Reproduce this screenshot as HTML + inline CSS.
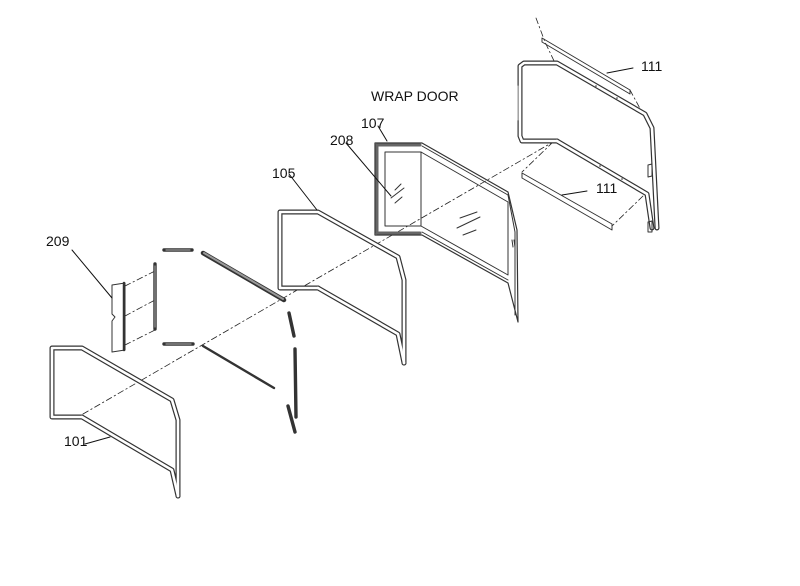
<!DOCTYPE html>
<html><head><style>
html,body{margin:0;padding:0;background:#fff;}
svg{display:block;}
text{font-family:"Liberation Sans",Arial,sans-serif;font-size:14px;fill:#111;}
</style></head><body>
<svg width="800" height="586" viewBox="0 0 800 586" xmlns="http://www.w3.org/2000/svg">
<g fill="none" stroke-linejoin="round" stroke-linecap="round">
<g stroke="#222" stroke-width="0.8" stroke-dasharray="6,3,1.5,3">
<path d="M83,414 L553,142"/>
<path d="M536,18 L545,42 L555,63"/>
<path d="M630,90 L643,114"/>
<path d="M553,142 L522,172"/>
<path d="M643,196 L612,226"/>
<path d="M125,286 L155,271"/>
<path d="M125,316 L155,300"/>
<path d="M125,345 L155,330"/>
</g>

<g stroke="#333" stroke-width="5">
<path d="M82,417 L52,417 L52,348 L82,348 L172,400 L178,420 L178,496"/>
<path d="M82,417 L172,470 L178,496"/>
<path d="M318,288 L280,288 L280,212 L318,212 L398,257 L404,280 L404,363"/>
<path d="M318,288 L398,334 L404,363"/>
<path d="M557,141 L522,141 L520,136 L520,66 L524,63 L557,63 L645,114 L652,128 L657,228"/>
<path d="M557,141 L647,194 L652,228"/>
</g>
<g stroke="#fff" stroke-width="2.6">
<path d="M82,417 L52,417 L52,348 L82,348 L172,400 L178,420 L178,496"/>
<path d="M82,417 L172,470 L178,496"/>
<path d="M318,288 L280,288 L280,212 L318,212 L398,257 L404,280 L404,363"/>
<path d="M318,288 L398,334 L404,363"/>
<path d="M557,141 L522,141 L520,136 L520,66 L524,63 L557,63 L645,114 L652,128 L657,228"/>
<path d="M557,141 L647,194 L652,228"/>
</g>
<g stroke="#333" stroke-width="1">
<path d="M375,143 L422,143 L508,192 L517,230 L518,322 L508,283 L422,235 L375,235 Z" stroke-width="1.2"/>
<path d="M377,145 L377,233 L420,233" stroke-width="3" stroke="#666"/>
<path d="M377,145 L420,145" stroke-width="3" stroke="#666"/>
<path d="M385,152 L421,152 L421,226 L385,226 Z"/>
<path d="M421,152 L508,202 L508,275 L421,226"/>
<path d="M422,146 L508,195"/>
<path d="M422,232 L508,280"/>
<path d="M508,195 L515,232 L515,315"/>
<path d="M395,190 L401,184 M391,198 L404,188 M395,203 L402,197"/>
<path d="M460,218 L477,212 M457,228 L480,217 M463,235 L476,230"/>
<path d="M512,240 L513,247 M514,240 L515,247"/>
</g>
<g stroke="#333" stroke-width="1">
<path d="M542,38 L630,90 L630,94 L542,42 Z"/>
<path d="M522,173 L612,224 L612,230 L522,178 Z"/>
<path d="M648,165 L652,164 L652,176 L648,177 Z"/>
<path d="M648,222 L652,221 L652,232 L648,232 Z"/>
<path d="M518,86 L518,120" stroke="#999"/>
</g>
<g fill="#333">
<circle cx="596" cy="86" r="0.8"/><circle cx="617" cy="98" r="0.8"/>
<circle cx="600" cy="166" r="0.8"/><circle cx="622" cy="179" r="0.8"/>
</g>
<g stroke="#333" stroke-width="3.4">
<path d="M164,250 L192,250"/>
<path d="M164,344 L193,344"/>
<path d="M155,264 L155,329"/>
<path d="M289,313 L294,336"/>
<path d="M295,349 L296,417"/>
<path d="M288,406 L295,432"/>
<path d="M203,253 L284,300" stroke-width="4.5"/>
<path d="M203,346 L274,388" stroke-width="2.4"/>
</g>
<g stroke="#999" stroke-width="1.2">
<path d="M166,250 L190,250"/>
<path d="M166,344 L191,344"/>
<path d="M155,266 L155,327"/>
<path d="M204,253 L283,299" stroke-width="2"/>
</g>
<g stroke="#333" stroke-width="1" fill="#fff">
<path d="M112,285 L125,283 L125,350 L112,352 L112,321 L115,317 L112,314 Z"/>
<path d="M124,283 L124,350" stroke-width="2.5"/>
</g>
<g stroke="#111" stroke-width="1">
<path d="M72,250 L112,298"/>
<path d="M85,444 L110,437"/>
<path d="M289,174 L317,210"/>
<path d="M346,143 L391,196"/>
<path d="M378,126 L387,141"/>
<path d="M633,68 L607,73"/>
<path d="M587,191 L562,195"/>
</g>
</g>
<text x="46" y="246">209</text>
<text x="64" y="446">101</text>
<text x="272" y="178">105</text>
<text x="330" y="145">208</text>
<text x="361" y="128">107</text>
<text x="371" y="101">WRAP DOOR</text>
<text x="641" y="71">111</text>
<text x="596" y="193">111</text>
</svg>
</body></html>
